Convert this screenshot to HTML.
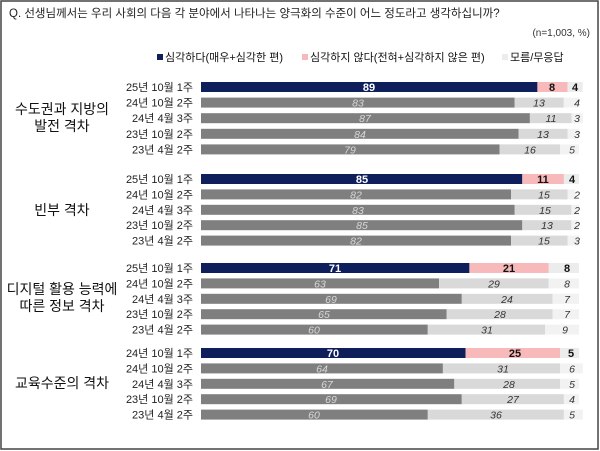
<!DOCTYPE html>
<html><head><meta charset="utf-8"><style>
body{margin:0;background:#fff}
svg{display:block;font-family:"Liberation Sans","Noto Sans CJK KR",sans-serif}
.rl{font-size:11px;fill:#222;text-anchor:end}
.gl{font-size:14px;fill:#111;text-anchor:middle}
.v{font-size:10.5px;text-anchor:middle;font-style:italic}
.w{fill:#d8d8d8}.d{fill:#333}
.b{font-size:11px;font-weight:bold;text-anchor:middle;font-style:normal}
</style></head><body>
<svg width="600" height="451" viewBox="0 0 600 451">
<rect x="1" y="1" width="597" height="448" fill="#fff" stroke="#444" stroke-width="1.5"/>
<text x="9" y="17" font-size="11.5" fill="#222">Q. 선생님께서는 우리 사회의 다음 각 분야에서 나타나는 양극화의 수준이 어느 정도라고 생각하십니까?</text>
<text x="590" y="36" font-size="10" fill="#333" text-anchor="end">(n=1,003, %)</text>
<rect x="157" y="54" width="6" height="6" fill="#0f1f5c"/><text x="165" y="61" font-size="11" fill="#111">심각하다(매우+심각한 편)</text>
<rect x="302" y="54" width="6" height="6" fill="#f7b9b9"/><text x="310" y="61" font-size="11" fill="#111">심각하지 않다(전혀+심각하지 않은 편)</text>
<rect x="502" y="54" width="6" height="6" fill="#ececec"/><text x="510" y="61" font-size="11" fill="#111">모름/무응답</text>

<text class="gl" x="62" y="114">수도권과 지방의</text><text class="gl" x="62" y="131">발전 격차</text>
<text class="gl" x="62" y="215">빈부 격차</text>
<text class="gl" x="62" y="294">디지털 활용 능력에</text><text class="gl" x="62" y="311">따른 정보 격차</text>
<text class="gl" x="62" y="388">교육수준의 격차</text>

<g id="g1">
<text class="rl" x="193" y="91">25년 10월 1주</text>
<rect x="201" y="82" width="336.4" height="10" fill="#0f1f5c"/><rect x="537.4" y="82" width="30.2" height="10" fill="#f7b9b9"/><rect x="567.6" y="82" width="15.1" height="10" fill="#ececec"/>
<text class="v b" x="369" y="91" fill="#fff">89</text><text class="v b" x="552" y="91" fill="#111">8</text><text class="v b" x="575" y="91" fill="#111">4</text>
<text class="rl" x="193" y="106.6">24년 10월 2주</text>
<rect x="201" y="97.6" width="313.7" height="10" fill="#7f7f7f"/><rect x="514.7" y="97.6" width="49.1" height="10" fill="#d9d9d9"/><rect x="563.8" y="97.6" width="15.1" height="10" fill="#f2f2f2"/>
<text class="v w" x="358" y="106.6">83</text><text class="v d" x="539" y="106.6">13</text><text class="v d" x="577" y="106.6">4</text>
<text class="rl" x="193" y="122.2">24년 4월 3주</text>
<rect x="201" y="113.2" width="328.9" height="10" fill="#7f7f7f"/><rect x="529.9" y="113.2" width="41.6" height="10" fill="#d9d9d9"/><rect x="571.5" y="113.2" width="11.3" height="10" fill="#f2f2f2"/>
<text class="v w" x="365" y="122.2">87</text><text class="v d" x="551" y="122.2">11</text><text class="v d" x="577" y="122.2">3</text>
<text class="rl" x="193" y="137.8">23년 10월 2주</text>
<rect x="201" y="128.8" width="317.5" height="10" fill="#7f7f7f"/><rect x="518.5" y="128.8" width="49.1" height="10" fill="#d9d9d9"/><rect x="567.6" y="128.8" width="11.3" height="10" fill="#f2f2f2"/>
<text class="v w" x="360" y="137.8">84</text><text class="v d" x="543" y="137.8">13</text><text class="v d" x="577" y="137.8">3</text>
<text class="rl" x="193" y="153.4">23년 4월 2주</text>
<rect x="201" y="144.4" width="298.6" height="10" fill="#7f7f7f"/><rect x="499.6" y="144.4" width="60.5" height="10" fill="#d9d9d9"/><rect x="560.1" y="144.4" width="18.9" height="10" fill="#f2f2f2"/>
<text class="v w" x="350" y="153.4">79</text><text class="v d" x="530" y="153.4">16</text><text class="v d" x="572" y="153.4">5</text>
</g>

<g>
<text class="rl" x="193" y="183">25년 10월 1주</text>
<rect x="201" y="174" width="321.3" height="10" fill="#0f1f5c"/><rect x="522.3" y="174" width="41.6" height="10" fill="#f7b9b9"/><rect x="563.9" y="174" width="15.1" height="10" fill="#ececec"/>
<text class="v b" x="362" y="183" fill="#fff">85</text><text class="v b" x="543" y="183" fill="#111">11</text><text class="v b" x="572" y="183" fill="#111">4</text>
<text class="rl" x="193" y="198.4">24년 10월 2주</text>
<rect x="201" y="189.4" width="310" height="10" fill="#7f7f7f"/><rect x="511" y="189.4" width="56.7" height="10" fill="#d9d9d9"/><rect x="567.7" y="189.4" width="7.6" height="10" fill="#f2f2f2"/>
<text class="v w" x="356" y="198.4">82</text><text class="v d" x="544" y="198.4">15</text><text class="v d" x="577" y="198.4">2</text>
<text class="rl" x="193" y="213.8">24년 4월 3주</text>
<rect x="201" y="204.8" width="313.7" height="10" fill="#7f7f7f"/><rect x="514.7" y="204.8" width="56.7" height="10" fill="#d9d9d9"/><rect x="571.4" y="204.8" width="7.6" height="10" fill="#f2f2f2"/>
<text class="v w" x="358" y="213.8">83</text><text class="v d" x="545" y="213.8">15</text><text class="v d" x="577" y="213.8">2</text>
<text class="rl" x="193" y="229.2">23년 10월 2주</text>
<rect x="201" y="220.2" width="321.3" height="10" fill="#7f7f7f"/><rect x="522.3" y="220.2" width="49.1" height="10" fill="#d9d9d9"/><rect x="571.4" y="220.2" width="7.6" height="10" fill="#f2f2f2"/>
<text class="v w" x="362" y="229.2">85</text><text class="v d" x="547" y="229.2">13</text><text class="v d" x="577" y="229.2">2</text>
<text class="rl" x="193" y="244.6">23년 4월 2주</text>
<rect x="201" y="235.6" width="310" height="10" fill="#7f7f7f"/><rect x="511" y="235.6" width="56.7" height="10" fill="#d9d9d9"/><rect x="567.7" y="235.6" width="11.3" height="10" fill="#f2f2f2"/>
<text class="v w" x="356" y="244.6">82</text><text class="v d" x="544" y="244.6">15</text><text class="v d" x="577" y="244.6">3</text>
</g>

<g>
<text class="rl" x="193" y="272">25년 10월 1주</text>
<rect x="201" y="263" width="268.4" height="10" fill="#0f1f5c"/><rect x="469.4" y="263" width="79.4" height="10" fill="#f7b9b9"/><rect x="548.8" y="263" width="30.2" height="10" fill="#ececec"/>
<text class="v b" x="335" y="272" fill="#fff">71</text><text class="v b" x="509" y="272" fill="#111">21</text><text class="v b" x="567" y="272" fill="#111">8</text>
<text class="rl" x="193" y="287.4">24년 10월 2주</text>
<rect x="201" y="278.4" width="238.1" height="10" fill="#7f7f7f"/><rect x="439.1" y="278.4" width="109.6" height="10" fill="#d9d9d9"/><rect x="548.7" y="278.4" width="30.2" height="10" fill="#f2f2f2"/>
<text class="v w" x="320" y="287.4">63</text><text class="v d" x="494" y="287.4">29</text><text class="v d" x="567" y="287.4">8</text>
<text class="rl" x="193" y="302.8">24년 4월 3주</text>
<rect x="201" y="293.8" width="260.8" height="10" fill="#7f7f7f"/><rect x="461.8" y="293.8" width="90.7" height="10" fill="#d9d9d9"/><rect x="552.5" y="293.8" width="26.5" height="10" fill="#f2f2f2"/>
<text class="v w" x="331" y="302.8">69</text><text class="v d" x="507" y="302.8">24</text><text class="v d" x="567" y="302.8">7</text>
<text class="rl" x="193" y="318.2">23년 10월 2주</text>
<rect x="201" y="309.2" width="245.7" height="10" fill="#7f7f7f"/><rect x="446.7" y="309.2" width="105.8" height="10" fill="#d9d9d9"/><rect x="552.5" y="309.2" width="26.5" height="10" fill="#f2f2f2"/>
<text class="v w" x="324" y="318.2">65</text><text class="v d" x="500" y="318.2">28</text><text class="v d" x="567" y="318.2">7</text>
<text class="rl" x="193" y="333.6">23년 4월 2주</text>
<rect x="201" y="324.6" width="226.8" height="10" fill="#7f7f7f"/><rect x="427.8" y="324.6" width="117.2" height="10" fill="#d9d9d9"/><rect x="545" y="324.6" width="34" height="10" fill="#f2f2f2"/>
<text class="v w" x="314" y="333.6">60</text><text class="v d" x="487" y="333.6">31</text><text class="v d" x="565" y="333.6">9</text>
</g>

<g>
<text class="rl" x="193" y="357">24년 10월 1주</text>
<rect x="201" y="348" width="264.6" height="10" fill="#0f1f5c"/><rect x="465.6" y="348" width="94.5" height="10" fill="#f7b9b9"/><rect x="560.1" y="348" width="18.9" height="10" fill="#ececec"/>
<text class="v b" x="333" y="357" fill="#fff">70</text><text class="v b" x="515" y="357" fill="#111">25</text><text class="v b" x="571" y="357" fill="#111">5</text>
<text class="rl" x="193" y="372.4">24년 10월 2주</text>
<rect x="201" y="363.4" width="241.9" height="10" fill="#7f7f7f"/><rect x="442.9" y="363.4" width="117.2" height="10" fill="#d9d9d9"/><rect x="560.1" y="363.4" width="22.7" height="10" fill="#f2f2f2"/>
<text class="v w" x="322" y="372.4">64</text><text class="v d" x="503" y="372.4">31</text><text class="v d" x="572" y="372.4">6</text>
<text class="rl" x="193" y="387.8">24년 4월 3주</text>
<rect x="201" y="378.8" width="253.3" height="10" fill="#7f7f7f"/><rect x="454.3" y="378.8" width="105.8" height="10" fill="#d9d9d9"/><rect x="560.1" y="378.8" width="18.9" height="10" fill="#f2f2f2"/>
<text class="v w" x="327" y="387.8">67</text><text class="v d" x="509" y="387.8">28</text><text class="v d" x="572" y="387.8">5</text>
<text class="rl" x="193" y="403.2">23년 10월 2주</text>
<rect x="201" y="394.2" width="260.8" height="10" fill="#7f7f7f"/><rect x="461.8" y="394.2" width="102.1" height="10" fill="#d9d9d9"/><rect x="563.9" y="394.2" width="15.1" height="10" fill="#f2f2f2"/>
<text class="v w" x="331" y="403.2">69</text><text class="v d" x="513" y="403.2">27</text><text class="v d" x="572" y="403.2">4</text>
<text class="rl" x="193" y="418.6">23년 4월 2주</text>
<rect x="201" y="409.6" width="226.8" height="10" fill="#7f7f7f"/><rect x="427.8" y="409.6" width="136.1" height="10" fill="#d9d9d9"/><rect x="563.9" y="409.6" width="18.9" height="10" fill="#f2f2f2"/>
<text class="v w" x="314" y="418.6">60</text><text class="v d" x="496" y="418.6">36</text><text class="v d" x="572" y="418.6">5</text>
</g>
</svg>
</body></html>
